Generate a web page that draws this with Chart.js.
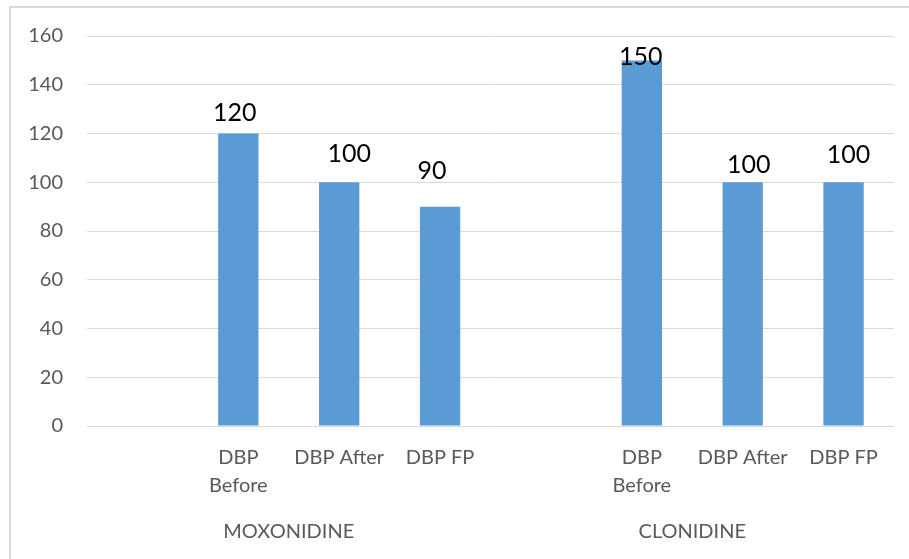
<!DOCTYPE html>
<html>
<head>
<meta charset="utf-8">
<script src="https://cdn.jsdelivr.net/npm/chart.js@4.4.1/dist/chart.umd.min.js"></script>
<style>
  html, body { margin: 0; padding: 0; background: #fff; overflow: hidden; }
  canvas { display: block; }
</style>
</head>
<body>
<canvas id="dbpChart" width="909" height="559"></canvas>
<script>
// blank slots keep the two drug groups apart on the category axis
const categories = ["", ["DBP", "Before"], "DBP After", "DBP FP", "", ["DBP", "Before"], "DBP After", "DBP FP"];
const drugGroups = ["MOXONIDINE", "CLONIDINE"];
const dbpValues = [null, 120, 100, 90, null, 150, 100, 100];
const yMin = 0;
const yMax = 160;
const yStep = 20;

// hand placed value labels: [dx, lift above bar top]
const labelNudge = [null, [-3.5, 21], [10, 28], [-8, 36], null, [-1, 3], [6, 17], [5, 27]];

const FONT = "Lato, 'Liberation Sans', sans-serif";
const TEXT_GREY = "#595959";
const LINE_GREY = "#d9d9d9";

const frame = {
  id: "frame",
  beforeDraw(chart) {
    const ctx = chart.ctx;
    ctx.save();
    ctx.fillStyle = "#fff";
    ctx.fillRect(0, 0, chart.width, chart.height);
    ctx.fillStyle = LINE_GREY;
    ctx.fillRect(9, 6, chart.width, 2);
    ctx.fillRect(9, 6, 2, chart.height);
    ctx.restore();
  }
};

const valueLabels = {
  id: "valueLabels",
  afterDatasetsDraw(chart) {
    const ctx = chart.ctx;
    const meta = chart.getDatasetMeta(0);
    ctx.save();
    ctx.font = "25px " + FONT;
    ctx.fillStyle = "#000";
    ctx.textAlign = "center";
    ctx.textBaseline = "middle";
    meta.data.forEach((bar, i) => {
      const v = dbpValues[i];
      if (v == null) return;
      const n = labelNudge[i] || [0, 20];
      ctx.fillText(String(v), bar.x + n[0], bar.y - n[1]);
    });
    ctx.restore();
  }
};

new Chart(document.getElementById("dbpChart").getContext("2d"), {
  type: "bar",
  data: {
    labels: categories,
    datasets: [
      {
        label: "DBP",
        data: dbpValues,
        backgroundColor: "#5b9bd5",
        borderWidth: 0,
        categoryPercentage: 1,
        barPercentage: 0.4
      }
    ]
  },
  options: {
    responsive: false,
    animation: false,
    layout: { padding: { top: 36, right: 15, left: 0, bottom: 17 } },
    plugins: {
      legend: { display: false },
      tooltip: { enabled: false }
    },
    scales: {
      y: {
        min: yMin,
        max: yMax,
        ticks: {
          stepSize: yStep,
          padding: 24,
          color: TEXT_GREY,
          font: { family: FONT, size: 20 }
        },
        grid: { color: LINE_GREY, lineWidth: 1, drawTicks: false },
        border: { display: false },
        afterFit: (scale) => { scale.width = 87; }
      },
      x: {
        offset: true,
        ticks: {
          padding: 9.5,
          color: TEXT_GREY,
          maxRotation: 0,
          autoSkip: false,
          font: { family: FONT, size: 20, lineHeight: 1.4 }
        },
        grid: { display: false },
        border: { display: false },
        afterFit: (scale) => { scale.height = 86; }
      },
      x2: {
        type: "category",
        position: "bottom",
        labels: drugGroups,
        offset: true,
        ticks: {
          padding: 0,
          color: TEXT_GREY,
          maxRotation: 0,
          font: { family: FONT, size: 20, lineHeight: 1.2 }
        },
        grid: { display: false },
        border: { display: false },
        afterFit: (scale) => { scale.height = 30; }
      }
    }
  },
  plugins: [frame, valueLabels]
});
</script>
</body>
</html>
